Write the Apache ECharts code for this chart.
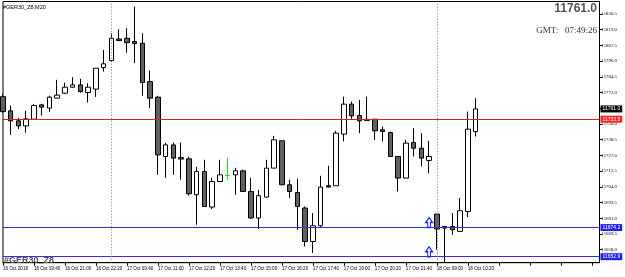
<!DOCTYPE html>
<html>
<head>
    <meta charset="utf-8">
    <title>GER30 M20</title>
    <script src="https://cdn.jsdelivr.net/npm/echarts@6/dist/echarts.min.js"></script>
    <style>
        html, body { margin: 0; padding: 0; background: #fff; }
        #main { width: 625px; height: 277px; }
    </style>
</head>
<body>
<div id="main"></div>
<script type="text/javascript">
    // 每根K线: 开盘 / 收盘 / 最低 / 最高 (M20)
    var opens = [11770.0, 11759.6, 11752.3, 11748.6, 11753.5, 11764.0, 11761.6, 11768.9, 11772.5, 11776.9,
        11778.6, 11773.0, 11775.5, 11791.2, 11796.4, 11812.2, 11812.7, 11810.3, 11809.1, 11781.0,
        11769.6, 11726.2, 11734.7, 11725.4, 11724.5, 11698.2, 11715.2, 11689.2, 11707.9, 11712.3,
        11712.8, 11715.7, 11700.6, 11681.2, 11696.5, 11717.7, 11737.7, 11705.5, 11699.9, 11688.5,
        11664.0, 11675.5, 11704.8, 11704.8, 11742.6, 11764.5, 11756.2, 11753.4, 11753.5, 11745.7,
        11743.7, 11726.2, 11710.4, 11736.4, 11732.3, 11723.3, 11684.1, 11675.0, 11675.0, 11671.4,
        11686.0, 11744.5];
    var closes = [11759.1, 11752.3, 11748.6, 11753.7, 11763.5, 11762.3, 11769.6, 11771.1, 11776.9, 11778.6,
        11773.7, 11776.9, 11790.8, 11794.0, 11812.7, 11811.0, 11809.5, 11808.8, 11780.3, 11768.9,
        11727.4, 11734.7, 11725.0, 11724.3, 11698.9, 11715.2, 11689.6, 11707.9, 11712.8, 11712.3,
        11715.7, 11700.6, 11681.2, 11697.5, 11717.7, 11738.4, 11705.5, 11700.6, 11689.6, 11664.0,
        11675.5, 11703.8, 11703.8, 11743.3, 11764.5, 11755.9, 11752.3, 11752.6, 11745.0, 11744.5,
        11726.2, 11710.4, 11736.0, 11732.3, 11725.0, 11726.2, 11673.1, 11673.8, 11672.6, 11686.5,
        11746.2, 11761.0];
    var lows = [11758.1, 11742.0, 11746.4, 11743.7, 11753.5, 11756.2, 11758.9, 11768.9, 11772.0, 11776.4,
        11772.8, 11765.7, 11769.8, 11788.3, 11795.4, 11810.8, 11802.2, 11794.5, 11770.6, 11761.6,
        11712.8, 11710.6, 11712.8, 11709.2, 11697.5, 11676.3, 11689.4, 11687.7, 11707.9, 11709.2,
        11698.2, 11700.4, 11680.6, 11673.1, 11696.0, 11717.7, 11705.5, 11695.8, 11672.6, 11660.4,
        11655.6, 11673.8, 11703.7, 11704.8, 11737.2, 11753.5, 11743.3, 11752.6, 11738.4, 11737.2,
        11726.2, 11700.6, 11710.4, 11726.2, 11718.9, 11714.0, 11658.0, 11648.7, 11668.9, 11671.4,
        11681.9, 11740.8];
    var highs = [11772.0, 11763.5, 11754.5, 11759.6, 11764.7, 11764.3, 11770.6, 11782.3, 11780.3, 11784.2,
        11783.0, 11779.8, 11790.8, 11804.2, 11816.4, 11819.3, 11820.0, 11835.8, 11816.4, 11789.1,
        11770.6, 11736.2, 11736.4, 11736.4, 11726.0, 11718.7, 11723.8, 11710.6, 11723.8, 11725.2,
        11717.9, 11716.5, 11710.6, 11701.8, 11723.8, 11741.3, 11737.7, 11709.2, 11709.9, 11689.6,
        11684.8, 11712.1, 11719.4, 11745.0, 11770.0, 11766.4, 11767.6, 11770.0, 11753.5, 11748.1,
        11744.5, 11726.2, 11738.4, 11746.9, 11743.3, 11737.7, 11684.1, 11675.0, 11684.8, 11695.8,
        11759.1, 11768.9];

    // 时间轴标签 (每4根K线一个)
    var timeLabels = ['16 Oct 2018', '16 Oct 19:40', '16 Oct 21:00', '16 Oct 22:20', '17 Oct 09:40',
        '17 Oct 11:00', '17 Oct 12:20', '17 Oct 13:40', '17 Oct 15:00', '17 Oct 16:20', '17 Oct 17:40',
        '17 Oct 19:00', '17 Oct 20:20', '17 Oct 21:40', '18 Oct 09:00', '18 Oct 10:20'];
    var priceTicks = [11658.0, 11669.5, 11681.0, 11692.5, 11704.0, 11715.5, 11727.0, 11738.5,
        11750.0, 11761.5, 11773.0, 11784.5, 11796.0, 11807.5, 11819.0, 11830.5];

    var bidPrice = 11761.0;
    var redLevel = 11753.5;
    var blueLevels = [11674.2, 11652.9];
    var separatorBars = [14, 56];
    var arrowBar = 55;
    var slotCount = 78; // 右侧留空

    var slots = [];
    for (var i = 0; i < slotCount; i++) slots.push(String(i));
    var candles = opens.map(function (o, i) {
        return [o, closes[i], lows[i], highs[i]];
    });

    var arrowPath = 'path://M5,0 L10,5 L7,5 L7,10 L3,10 L3,5 L0,5 Z';
    var lvlLabel = function (bg) {
        return {
            show: true, position: 'end', distance: 1, color: '#fff', backgroundColor: bg,
            fontSize: 5, fontFamily: 'Liberation Sans', padding: [1, 2, 1, 2],
            formatter: function (p) { return p.value.toFixed(1); }
        };
    };

    var myChart = echarts.init(document.getElementById('main'));
    myChart.setOption({
        backgroundColor: '#fff',
        animation: false,
        title: [
            { text: '#GER30_Z8,M20', left: 3, top: 4, padding: 0,
              textStyle: { fontSize: 5.5, fontWeight: 'normal', color: '#000', fontFamily: 'Liberation Sans' } },
            { text: '11761.0', right: 28, top: 3, padding: 0,
              textStyle: { fontSize: 12, fontWeight: 'bold', color: '#555', fontFamily: 'Liberation Sans' } },
            { text: 'GMT:   07:49:26', right: 28, top: 26, padding: 0,
              textStyle: { fontSize: 9, fontWeight: 'normal', color: '#333', fontFamily: 'Liberation Serif' } }
        ],
        graphic: [{
            type: 'text', left: 4, top: 256, z: 100,
            style: { text: '#GER30_Z8', font: 'bold 9px "Liberation Sans"', fill: '#555' }
        }],
        grid: {
            left: 2, top: 1.5, right: 25.5, bottom: 14.3,
            show: true, borderColor: '#000', borderWidth: 1
        },
        xAxis: {
            type: 'category',
            data: slots,
            boundaryGap: false,
            axisLine: { lineStyle: { color: '#000' } },
            axisTick: { interval: 3, length: 3, lineStyle: { color: '#000' } },
            axisLabel: {
                interval: 3, align: 'left', margin: 4, fontSize: 4.6, color: '#000',
                fontFamily: 'Liberation Sans',
                formatter: function (v, idx) {
                    var k = idx / 4;
                    return k < timeLabels.length ? timeLabels[k] : '';
                }
            },
            splitLine: { show: false }
        },
        yAxis: {
            type: 'value',
            position: 'right',
            min: 11648.5,
            max: 11839.6,
            scale: true,
            axisLine: { show: true, lineStyle: { color: '#000' } },
            axisTick: { show: true, length: 3, customValues: priceTicks, lineStyle: { color: '#000' } },
            axisLabel: {
                customValues: priceTicks, margin: 2, fontSize: 4.8, color: '#000',
                fontFamily: 'Liberation Serif',
                formatter: function (v) { return v.toFixed(1); }
            },
            splitLine: { show: false }
        },
        series: [{
            type: 'candlestick',
            data: candles,
            barWidth: 5,
            itemStyle: {
                color: '#fff',
                color0: '#606060',
                borderColor: '#000',
                borderColor0: '#000',
                borderColorDoji: '#00ee00',
                borderWidth: 1
            },
            markLine: {
                silent: true,
                symbol: ['none', 'none'],
                animation: false,
                data: [
                    { yAxis: redLevel, lineStyle: { color: '#e02020', width: 1, type: 'solid', opacity: 1 }, label: lvlLabel('#ff2020') },
                    { yAxis: bidPrice, lineStyle: { color: 'rgba(0,0,0,0)', width: 0 }, label: lvlLabel('#000') },
                    { yAxis: blueLevels[0], lineStyle: { color: '#3030e0', width: 1, type: 'solid', opacity: 1 }, label: lvlLabel('#1f1fff') },
                    { yAxis: blueLevels[1], lineStyle: { color: '#3030e0', width: 1, type: 'solid', opacity: 1 }, label: lvlLabel('#1f1fff') },
                    { xAxis: separatorBars[0], lineStyle: { color: '#777', width: 1, type: [1, 2] }, label: { show: false } },
                    { xAxis: separatorBars[1], lineStyle: { color: '#777', width: 1, type: [1, 2] }, label: { show: false } }
                ]
            },
            markPoint: {
                silent: true,
                animation: false,
                label: { show: false },
                data: blueLevels.map(function (lv) {
                    return {
                        coord: [arrowBar, lv],
                        symbol: arrowPath,
                        symbolSize: [7, 10],
                        symbolOffset: [0, -5],
                        itemStyle: { color: '#fff', borderColor: '#1f1fff', borderWidth: 1.2 }
                    };
                })
            }
        }]
    });
</script>
</body>
</html>
